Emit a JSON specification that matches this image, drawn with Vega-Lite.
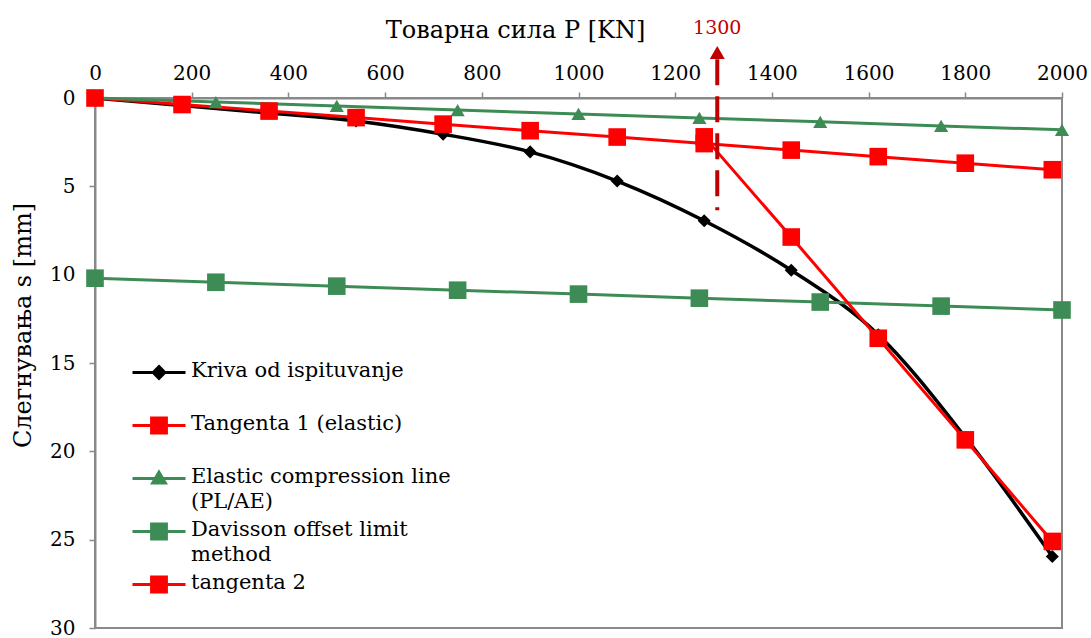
{
  "$schema": "https://vega.github.io/schema/vega-lite/v6.json",
  "width": 967,
  "height": 530,
  "autosize": "none",
  "padding": {"left": 95, "top": 98, "right": 29, "bottom": 10},
  "background": "white",
  "config": {
    "font": "DejaVu Serif",
    "view": {"stroke": "#898989", "strokeWidth": 2}
  },
  "datasets": {
    "main": [
      {"series": "Kriva od ispituvanje", "P": 0, "s": 0},
      {"series": "Kriva od ispituvanje", "P": 180, "s": 0.42},
      {"series": "Kriva od ispituvanje", "P": 360, "s": 0.85},
      {"series": "Kriva od ispituvanje", "P": 540, "s": 1.3},
      {"series": "Kriva od ispituvanje", "P": 720, "s": 2.05},
      {"series": "Kriva od ispituvanje", "P": 900, "s": 3.05},
      {"series": "Kriva od ispituvanje", "P": 1080, "s": 4.7},
      {"series": "Kriva od ispituvanje", "P": 1260, "s": 6.95},
      {"series": "Kriva od ispituvanje", "P": 1440, "s": 9.75},
      {"series": "Kriva od ispituvanje", "P": 1620, "s": 13.4},
      {"series": "Kriva od ispituvanje", "P": 1800, "s": 19.2},
      {"series": "Kriva od ispituvanje", "P": 1980, "s": 25.95},
      {"series": "Tangenta 1 (elastic)", "P": 0, "s": 0},
      {"series": "Tangenta 1 (elastic)", "P": 180, "s": 0.37},
      {"series": "Tangenta 1 (elastic)", "P": 360, "s": 0.74},
      {"series": "Tangenta 1 (elastic)", "P": 540, "s": 1.11},
      {"series": "Tangenta 1 (elastic)", "P": 720, "s": 1.48},
      {"series": "Tangenta 1 (elastic)", "P": 900, "s": 1.85},
      {"series": "Tangenta 1 (elastic)", "P": 1080, "s": 2.21},
      {"series": "Tangenta 1 (elastic)", "P": 1260, "s": 2.58},
      {"series": "Tangenta 1 (elastic)", "P": 1440, "s": 2.95},
      {"series": "Tangenta 1 (elastic)", "P": 1620, "s": 3.32},
      {"series": "Tangenta 1 (elastic)", "P": 1800, "s": 3.69},
      {"series": "Tangenta 1 (elastic)", "P": 1980, "s": 4.06},
      {"series": "Elastic compression line (PL/AE)", "P": 0, "s": 0},
      {"series": "Elastic compression line (PL/AE)", "P": 250, "s": 0.23},
      {"series": "Elastic compression line (PL/AE)", "P": 500, "s": 0.45},
      {"series": "Elastic compression line (PL/AE)", "P": 750, "s": 0.68},
      {"series": "Elastic compression line (PL/AE)", "P": 1000, "s": 0.9},
      {"series": "Elastic compression line (PL/AE)", "P": 1250, "s": 1.13},
      {"series": "Elastic compression line (PL/AE)", "P": 1500, "s": 1.35},
      {"series": "Elastic compression line (PL/AE)", "P": 1750, "s": 1.58},
      {"series": "Elastic compression line (PL/AE)", "P": 2000, "s": 1.8},
      {"series": "Davisson offset limit method", "P": 0, "s": 10.2},
      {"series": "Davisson offset limit method", "P": 250, "s": 10.43},
      {"series": "Davisson offset limit method", "P": 500, "s": 10.65},
      {"series": "Davisson offset limit method", "P": 750, "s": 10.88},
      {"series": "Davisson offset limit method", "P": 1000, "s": 11.1},
      {"series": "Davisson offset limit method", "P": 1250, "s": 11.33},
      {"series": "Davisson offset limit method", "P": 1500, "s": 11.55},
      {"series": "Davisson offset limit method", "P": 1750, "s": 11.78},
      {"series": "Davisson offset limit method", "P": 2000, "s": 12.0},
      {"series": "tangenta 2", "P": 1260, "s": 2.2},
      {"series": "tangenta 2", "P": 1440, "s": 7.87},
      {"series": "tangenta 2", "P": 1620, "s": 13.6},
      {"series": "tangenta 2", "P": 1800, "s": 19.35},
      {"series": "tangenta 2", "P": 1980, "s": 25.1}
    ],
    "marker": [
      {"P": 1287, "s": -2.2, "s2": 6.35, "arrow": -2.58, "labelS": -3.96, "label": "1300"}
    ]
  },
  "encoding": {
    "x": {
      "field": "P", "type": "quantitative",
      "scale": {"domain": [0, 2000], "nice": false, "zero": false},
      "axis": {
        "orient": "top",
        "title": "Товарна сила P [KN]",
        "values": [0, 200, 400, 600, 800, 1000, 1200, 1400, 1600, 1800, 2000],
        "format": "d",
        "grid": false,
        "domainColor": "#898989", "domainWidth": 2,
        "tickColor": "#898989", "tickWidth": 1.5, "tickSize": 6,
        "labelFontSize": 20, "labelColor": "#000000", "labelPadding": 13,
        "labelBaseline": "alphabetic", "labelFlush": false, "labelOverlap": false,
        "titleFontSize": 24, "titleFontWeight": "normal", "titleColor": "#000000",
        "titleX": 420, "titleY": -61, "titleAlign": "center", "titleBaseline": "alphabetic"
      }
    },
    "y": {
      "field": "s", "type": "quantitative",
      "scale": {"domain": [0, 30], "nice": false, "reverse": true},
      "axis": {
        "title": "Слегнувања s [mm]",
        "values": [0, 5, 10, 15, 20, 25, 30],
        "grid": false,
        "domainColor": "#898989", "domainWidth": 2,
        "tickColor": "#898989", "tickWidth": 1.5, "tickSize": 6,
        "labelFontSize": 20, "labelColor": "#000000", "labelPadding": 14,
        "labelOverlap": false, "labelFlush": false,
        "titleFontSize": 24, "titleFontWeight": "normal", "titleColor": "#000000",
        "titleX": -72, "titleY": 227, "titleAngle": -90, "titleAlign": "center", "titleBaseline": "middle"
      }
    },
    "color": {
      "field": "series", "type": "nominal",
      "scale": {
        "domain": ["Kriva od ispituvanje", "Tangenta 1 (elastic)", "Elastic compression line (PL/AE)", "Davisson offset limit method", "tangenta 2"],
        "range": ["#000000", "#FF0000", "#3D8B55", "#3D8B55", "#FF0000"]
      },
      "legend": {
        "orient": "none",
        "legendX": 36,
        "legendY": 255.5,
        "title": null,
        "symbolSize": 2809,
        "symbolStrokeWidth": 3,
        "clipHeight": 38,
        "labelFontSize": 21,
        "labelColor": "#000000",
        "labelOffset": 4,
        "labelLimit": 500,
        "labelBaseline": "top",
        "rowPadding": 0,
        "gridAlign": "all",
        "labelExpr": "datum.label == 'Elastic compression line (PL/AE)' ? ['Elastic compression line', '(PL/AE)'] : datum.label == 'Davisson offset limit method' ? ['Davisson offset limit', 'method'] : datum.label",
        "encode": {
          "labels": {"update": {"dy": {"value": -12.5}, "lineHeight": {"value": 25}}},
          "symbols": {
            "update": {
              "shape": {"signal": "datum.value == 'Kriva od ispituvanje' ? 'M-1,0H1M0,-0.22L0.22,0L0,0.22L-0.22,0Z' : datum.value == 'Elastic compression line (PL/AE)' ? 'M-1,0H1M0,-0.24L0.24,0.17H-0.24Z' : 'M-1,0H1M-0.28,-0.28H0.28V0.28H-0.28Z'"},
              "fill": {"signal": "scale('color', datum.value)"},
              "stroke": {"signal": "scale('color', datum.value)"},
              "strokeWidth": {"value": 3},
              "opacity": {"value": 1}
            }
          }
        }
      }
    }
  },
  "layer": [
    {
      "data": {"name": "main"},
      "transform": [{"filter": "datum.series == 'Kriva od ispituvanje'"}],
      "mark": {"type": "line", "interpolate": "monotone", "strokeWidth": 3.5}
    },
    {
      "data": {"name": "main"},
      "transform": [{"filter": "datum.series == 'Kriva od ispituvanje'"}],
      "mark": {"type": "point", "filled": true, "opacity": 1, "shape": "diamond", "size": 170}
    },
    {
      "data": {"name": "main"},
      "transform": [{"filter": "datum.series != 'Kriva od ispituvanje'"}],
      "mark": {"type": "line", "strokeWidth": 3}
    },
    {
      "data": {"name": "main"},
      "transform": [{"filter": "datum.series == 'Elastic compression line (PL/AE)'"}],
      "mark": {"type": "point", "filled": true, "opacity": 1, "shape": "triangle-up", "size": 200}
    },
    {
      "data": {"name": "main"},
      "transform": [{"filter": "datum.series == 'Tangenta 1 (elastic)' || datum.series == 'Davisson offset limit method' || datum.series == 'tangenta 2'"}],
      "mark": {"type": "point", "filled": true, "opacity": 1, "shape": "square", "size": 310}
    },
    {
      "data": {"name": "marker"},
      "mark": {"type": "rule", "strokeWidth": 4, "strokeDash": [26, 11], "clip": false},
      "encoding": {
        "y": {"field": "s", "type": "quantitative"},
        "y2": {"field": "s2"},
        "color": {"value": "#C00000"}
      }
    },
    {
      "data": {"name": "marker"},
      "mark": {"type": "point", "shape": "triangle-up", "filled": true, "opacity": 1, "size": 225, "clip": false},
      "encoding": {
        "y": {"field": "arrow", "type": "quantitative"},
        "color": {"value": "#C00000"}
      }
    },
    {
      "data": {"name": "marker"},
      "mark": {"type": "text", "fontSize": 19, "baseline": "middle", "align": "center", "clip": false},
      "encoding": {
        "y": {"field": "labelS", "type": "quantitative"},
        "text": {"field": "label"},
        "color": {"value": "#C00000"}
      }
    }
  ]
}
